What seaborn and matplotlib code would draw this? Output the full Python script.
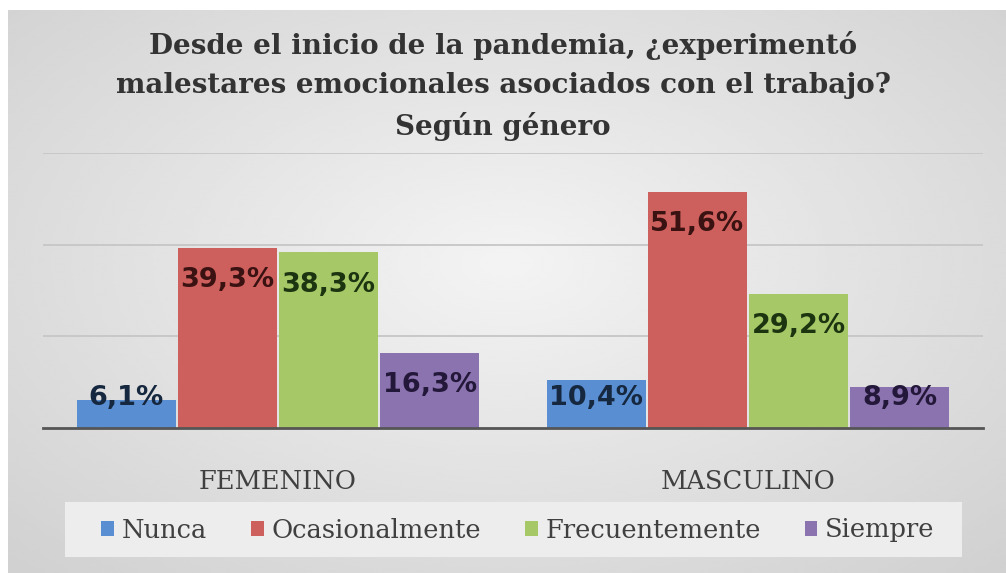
import numpy as np
import pandas as pd
import seaborn as sns
import matplotlib.pyplot as plt
from matplotlib.patches import Patch, Rectangle

# Data
generos = ['FEMENINO', 'MASCULINO']
respuestas = ['Nunca', 'Ocasionalmente', 'Frecuentemente', 'Siempre']
femenino = [6.1, 39.3, 38.3, 16.3]
masculino = [10.4, 51.6, 29.2, 8.9]

colores = ['#5A8ED2', '#CD5F5C', '#A6C867', '#8B73AF']
colores_texto = ['#16283F', '#3A1212', '#1D3410', '#24183A']

titulo = ('Desde el inicio de la pandemia, ¿experimentó\n'
          'malestares emocionales asociados con el trabajo?\n'
          'Según género')

rows = []
for g, vals in zip(generos, [femenino, masculino]):
    for r, v in zip(respuestas, vals):
        rows.append({'genero': g, 'respuesta': r, 'pct': v})
df = pd.DataFrame(rows)

sns.set_theme(style='white')
plt.rcParams['font.family'] = ['DejaVu Serif', 'Liberation Serif']

fig = plt.figure(figsize=(10.06, 5.73), dpi=100)

# gray radial gradient behind the chart
bg = fig.add_axes([8 / 1006, 0, 998 / 1006, 563 / 573], zorder=0)
yy, xx = np.mgrid[-1:1:300j, -1:1:500j]
r = np.sqrt((xx / 1.05) ** 2 + ((yy + 0.1) / 1.1) ** 2)
grad = 0.955 - 0.1 * r
bg.imshow(grad, cmap='gray', vmin=0, vmax=1, aspect='auto',
          extent=[0, 1, 0, 1], interpolation='bicubic')
bg.set_axis_off()
# light box behind the legend
bg.add_patch(Rectangle(((65 - 8) / 998, (573 - 557) / 563), 897 / 998, 55 / 563,
                       transform=bg.transAxes, facecolor='#ededed',
                       edgecolor='none', zorder=2))

ax = fig.add_axes([43 / 1006, 1 - 428 / 573, 940 / 1006, 275 / 573], zorder=1)
ax.patch.set_alpha(0)
sns.barplot(data=df, x='genero', y='pct', hue='respuesta',
            hue_order=respuestas, order=generos, palette=colores,
            saturation=1, width=0.86, gap=0.025, legend=False,
            edgecolor='none', ax=ax)

ax.set_ylim(0, 60)
ax.set_yticks([20, 40, 60])
ax.yaxis.grid(True, color='#c6c6c6', linewidth=1.3)
ax.set_axisbelow(True)
ax.tick_params(axis='y', left=False, labelleft=False)
ax.tick_params(axis='x', bottom=False, pad=23.5, labelsize=18.5,
               labelcolor='#404040')
for s in ['top', 'right', 'left']:
    ax.spines[s].set_visible(False)
ax.spines['bottom'].set_color('#555555')
ax.spines['bottom'].set_linewidth(2)
ax.set_xlabel('')
ax.set_ylabel('')

for cont, col in zip(ax.containers, colores_texto):
    for bar in cont:
        h = bar.get_height()
        ax.text(bar.get_x() + bar.get_width() / 2, max(h - 7.0, 6.6),
                '{:.1f}%'.format(h).replace('.', ','),
                ha='center', va='center', fontsize=19.5, fontweight='bold',
                color=col, family='DejaVu Sans')

fig.text(0.5, 1 - 86 / 573, titulo, ha='center', va='center',
         fontsize=20, fontweight='bold', color='#333333',
         linespacing=1.58)

handles = [Patch(facecolor=c, edgecolor='none') for c in colores]
leg = fig.legend(handles, respuestas, loc='center',
                 bbox_to_anchor=(518 / 1006, 1 - 530 / 573), ncol=4,
                 fontsize=18.5, frameon=False,
                 handlelength=0.5, handleheight=0.5, handletextpad=0.3,
                 columnspacing=1.7, borderaxespad=0)
for t in leg.get_texts():
    t.set_color('#404040')

fig.savefig('out.png', dpi=100)
